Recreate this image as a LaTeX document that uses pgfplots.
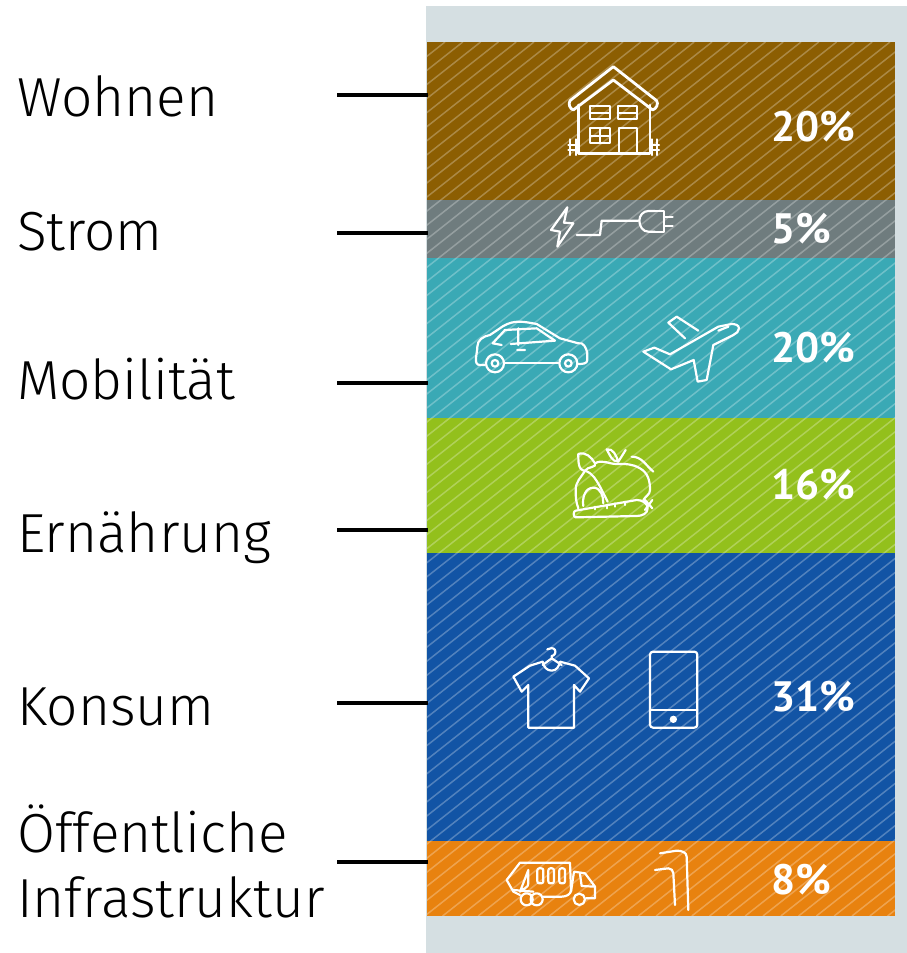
\documentclass[border=0pt]{standalone}
\usepackage{pgfplots}
\pgfplotsset{compat=1.18}
\usepackage{pgfplotstable}
\usepackage{fontspec}
\setmainfont{Fira Sans Light}
\newfontfamily\pct{PT Sans}
\definecolor{bgc}{HTML}{D5DFE2}
\definecolor{cWohnen}{HTML}{8C5E02}
\definecolor{cStrom}{HTML}{6F7C7E}
\definecolor{cMob}{HTML}{3AA9B5}
\definecolor{cErn}{HTML}{93C01C}
\definecolor{cKon}{HTML}{1254A5}
\definecolor{cOef}{HTML}{E8820F}
\pgfplotstableread{
x offset wohnen strom mobil ernaehrung konsum infra
661 42 158 58 160 135 288 75
}\bands
\tikzset{px/.style={x=1pt,y=-1pt,shift={(0,-953)}},
 icon/.style={draw=white,line width=2.2pt,line join=round,line cap=round,fill=none}}
\newcommand{\lab}[3]{\node[anchor=base west,inner sep=0pt,font=\fontsize{55}{55}\selectfont,text=black] at (axis cs:#1,#2) {#3};}
\newcommand{\pc}[2]{\node[anchor=west,inner sep=0pt,font=\pct\bfseries\fontsize{42.5}{42.5}\selectfont,text=white] at (axis cs:771,#1) {#2};}
\newcommand{\lead}[1]{\draw[black,line width=3.2pt] (337,#1) -- (428,#1);}
\begin{document}
\begin{tikzpicture}
\useasboundingbox (0,0) rectangle (907pt,953pt);
\begin{scope}[px]
\fill[bgc] (426,6) rectangle (907,953);
\end{scope}
\begin{axis}[at={(0,0)},anchor=south west,scale only axis,width=907pt,height=953pt,
 xmin=0,xmax=907,ymin=0,ymax=953,y dir=reverse,hide axis,clip=false,
 ybar stacked,bar width=468pt]
\addplot[draw=none,fill=none] table[x=x,y=offset]{\bands};
\addplot[draw=none,fill=cWohnen] table[x=x,y=wohnen]{\bands};
\addplot[draw=none,fill=cStrom] table[x=x,y=strom]{\bands};
\addplot[draw=none,fill=cMob] table[x=x,y=mobil]{\bands};
\addplot[draw=none,fill=cErn] table[x=x,y=ernaehrung]{\bands};
\addplot[draw=none,fill=cKon] table[x=x,y=konsum]{\bands};
\addplot[draw=none,fill=cOef] table[x=x,y=infra]{\bands};
\lab{17}{116}{Wohnen}
\lab{17}{250}{Strom}
\lab{17}{399}{Mobilität}
\lab{17}{552}{Ernährung}
\lab{17}{725}{Konsum}
\lab{17}{852}{Öffentliche}
\lab{17}{917}{Infrastruktur}
\end{axis}
\begin{scope}[px]
\begin{scope}
\clip (427,42) rectangle (895,916);
\foreach \k in {0,...,90}{
 \pgfmathsetmacro{\xa}{445+17.8*\k}
 \pgfmathsetmacro{\xb}{\xa-1106}
 \draw[white,opacity=.27,line width=1.5pt] (\xa,42) -- (\xb,916);
}
\end{scope}
\lead{95}\lead{233}\lead{383}\lead{530}\lead{703}\lead{862}
% house
\begin{scope}[shift={(555,60)},scale=1/3]
\draw[icon,line width=2.8pt] (175,20) -- (305,122) to[out=-60,in=20] (293,150) -- (175,60) -- (55,150) to[out=160,in=240] (45,122) -- cycle;
\draw[icon,line width=2.8pt] (70,135) -- (70,280) -- (285,280) -- (285,135);
\draw[icon] (105,138) rectangle (165,178) (105,158) -- (165,158);
\draw[icon] (188,138) rectangle (245,178) (188,158) -- (245,158);
\draw[icon] (105,205) rectangle (165,250) (135,205) -- (135,250) (105,228) -- (165,228);
\draw[icon] (192,205) rectangle (245,280);
\draw[icon] (45,238) -- (45,285) (62,238) -- (62,285) (40,255) -- (70,255) (40,270) -- (70,270);
\draw[icon] (292,238) -- (292,285) (307,238) -- (307,285) (285,255) -- (312,255) (285,270) -- (312,270);
\end{scope}
% plug
\begin{scope}[shift={(540,200)},scale=1/3]
\draw[icon] (82,22) -- (33,90) -- (60,95) -- (52,140) -- (100,70) -- (72,68) -- cycle;
\draw[icon] (110,105) -- (180,105) -- (185,62) -- (295,62);
\draw[icon] (345,33) -- (325,33) to[out=180,in=90] (298,62) to[out=-90,in=180] (325,95) -- (345,95);
\draw[icon] (345,33) -- (372,33) -- (372,95) -- (345,95) (372,50) -- (398,50) (372,78) -- (398,78);
\end{scope}
% car
\begin{scope}[shift={(470,310)},scale=1/3]
\draw[icon] (45,165) -- (30,165) to[out=180,in=-90] (22,110) to[out=90,in=190] (60,75) -- (100,48) to[out=30,in=170] (200,42) -- (270,85) -- (325,100) to[out=20,in=100] (352,130) -- (352,150) to[out=-90,in=0] (325,162);
\draw[icon] (105,158) -- (265,158);
\draw[icon] (75,160) circle (27) (75,160) circle (10);
\draw[icon] (295,160) circle (27) (295,160) circle (10);
\draw[icon] (95,105) -- (68,100) -- (105,60) -- (200,55) -- (255,92) -- (122,102) (145,55) -- (145,105) (142,120) -- (165,120);
\end{scope}
% plane
\begin{scope}[shift={(635,310)},scale=1/3]
\draw[icon] (25,125) -- (58,113) -- (105,133) -- (250,50) -- (290,42) to[out=0,in=90] (312,55) to[out=-90,in=30] (295,75) -- (235,105) -- (215,210) -- (188,215) -- (176,150) -- (108,178) -- cycle;
\draw[icon] (190,62) -- (125,20) -- (100,38) -- (150,85);
\draw[icon] (250,62) -- (280,50);
\end{scope}
% food
\begin{scope}[shift={(565,440)},scale=1/3]
\draw[icon] (32,212) -- (215,180) to[out=0,in=90] (248,205) to[out=-90,in=0] (215,228) -- (32,232) to[out=180,in=180] (32,212);
\draw[icon] (240,180) -- (262,205) (262,180) -- (240,210);
\draw[icon] (55,198) to[out=100,in=180] (85,143) to[out=0,in=90] (115,190);
\draw[icon] (40,205) to[out=110,in=-90] (32,150) to[out=90,in=-120] (60,92) to[out=-20,in=120] (105,140) -- (128,185);
\draw[icon] (60,92) to[out=180,in=-90] (40,42) to[out=20,in=120] (90,70) to[out=-60,in=60] (60,92);
\draw[icon] (90,70) to[out=30,in=180] (155,72) to[out=0,in=150] (225,85) to[out=-30,in=90] (255,150) to[out=-90,in=60] (235,180);
\draw[icon] (200,50) to[out=0,in=140] (265,95);
\draw[icon] (160,65) to[out=180,in=-60] (125,28) to[out=10,in=110] (160,65) -- (182,30);
\draw[icon] (90,200) -- (90,208) (125,195) -- (125,205) (150,190) -- (150,200) (180,185) -- (180,195);
\end{scope}
% shirt and phone
\begin{scope}[shift={(420,630)},scale=1/3]
\draw[icon] (280,140) -- (330,107) -- (368,95) to[out=-80,in=180] (395,122) to[out=0,in=-100] (420,95) -- (465,107) -- (507,145) -- (480,185) -- (462,165) -- (462,293) -- (325,293) -- (325,165) -- (305,185) -- cycle;
\draw[icon] (368,105) -- (395,85) -- (425,105) (395,85) -- (395,78) to[out=0,in=-60] (405,60) to[out=120,in=30] (382,58);
\draw[icon,rounded corners=3pt] (690,65) rectangle (832,293);
\draw[icon] (690,240) -- (832,240);
\fill[white] (760,268) circle (11);
\end{scope}
% truck and lamp
\begin{scope}[shift={(500,850)},scale=1/3]
\draw[icon] (60,135) -- (40,125) -- (20,90) -- (60,38) -- (210,38) -- (213,120) to[out=-90,in=0] (185,140) -- (130,140);
\draw[icon] (60,125) -- (85,60) -- (85,100) to[out=-90,in=45] (60,125) (40,120) -- (100,125);
\draw[icon,rounded corners=2pt] (112,55) rectangle (130,100) (145,55) rectangle (162,100) (178,55) rectangle (195,100);
\draw[icon] (80,148) circle (18) (110,148) circle (18) (238,148) circle (17);
\draw[icon] (222,65) -- (255,70) -- (285,110) -- (285,145) -- (258,145) (213,125) -- (222,65) (240,72) -- (245,108) -- (285,110);
\draw[icon] (565,180) -- (560,20) to[out=90,in=0] (530,2) -- (480,10) (525,165) -- (520,70) to[out=90,in=0] (505,55) -- (465,60);
\end{scope}
\end{scope}
\begin{axis}[at={(0,0)},anchor=south west,scale only axis,width=907pt,height=953pt,
 xmin=0,xmax=907,ymin=0,ymax=953,y dir=reverse,hide axis,clip=false]
\pc{127}{20\%}
\pc{229}{5\%}
\pc{348}{20\%}
\pc{485}{16\%}
\pc{697}{31\%}
\pc{880}{8\%}
\end{axis}
\end{tikzpicture}
\end{document}
